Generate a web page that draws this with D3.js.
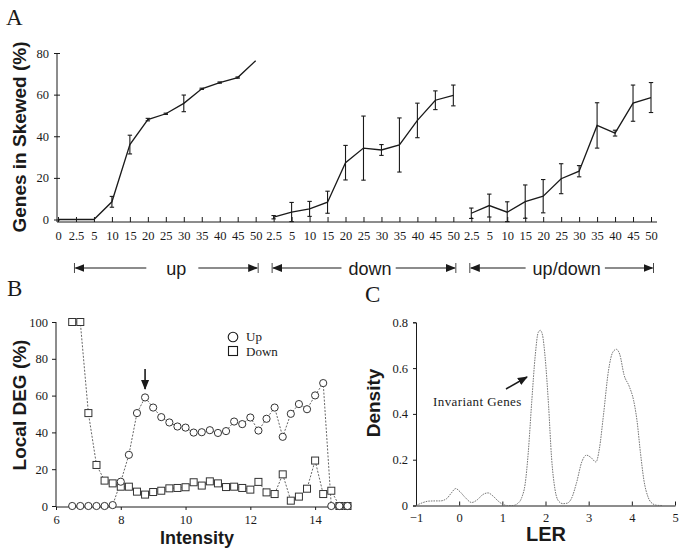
<!DOCTYPE html>
<html><head><meta charset="utf-8">
<script src="https://cdn.jsdelivr.net/npm/d3@7"></script>
<style>
body{margin:0;background:#fff;}
svg{display:block;}
.serif{font-family:"Liberation Serif","Times New Roman",serif;}
.sans{font-family:"Liberation Sans",Arial,sans-serif;}
</style>
</head><body>
<svg id="chart" width="685" height="548"></svg>
<script>
// ---------- Panel A data ----------
const groupsA = ["up", "down", "up/down"];
const levelsUp = ["0","2.5","5","10","15","20","25","30","35","40","45","50"];
const levelsDown = ["2.5","5","10","15","20","25","30","35","40","45","50"];
const levelsUpDown = ["2.5","5","10","15","20","25","30","35","40","45","50"];
const valUp = [0, 0, 0, 8.5, 36, 48, 50.8, 55.8, 62.8, 65.8, 68.2, 76.3];
const errUp = [0, 0, 0, 2.6, 4.5, 0.6, 0.3, 4, 0.3, 0.3, 0.3, 0];
const valDown = [1.1, 3.5, 5.1, 8.3, 27.3, 34.3, 33.4, 35.8, 47.6, 57.3, 59.6];
const errDown = [0.8, 4.7, 3.6, 5.3, 8.3, 15.4, 2.6, 13, 8.3, 4.5, 5];
const valUpDown = [3.0, 6.7, 3.5, 8.6, 11.2, 19.6, 23.2, 45.2, 41.5, 55.9, 58.6];
const errUpDown = [2.5, 5.5, 5, 8, 8, 7.2, 2.7, 10.9, 1.4, 8.7, 7.2];
const ticksA = [0, 20, 40, 60, 80];

// ---------- Panel B data ----------
const intensity = [6.5,6.75,7,7.25,7.5,7.75,8,8.25,8.5,8.75,9,9.25,9.5,9.75,10,10.25,10.5,10.75,11,11.25,11.5,11.75,12,12.25,12.5,12.75,13,13.25,13.5,13.75,14,14.25,14.5,14.75,15];
const localUp = [0,0,0,0,0,0.5,13.2,27.8,50.5,59,53.5,48.3,45.4,43.2,42.6,39.9,40.1,41.2,39.7,40.7,45.9,44.5,48.1,41,47.4,53.5,37.6,50.1,55.4,52.6,60.1,66.8,0,0,0];
const localDown = [100,100,50.5,22.3,13.8,12.3,10.5,10.5,7.8,6.2,7.6,8.3,9.6,9.8,10.2,12.9,11.1,13.4,12.3,10.3,10.5,9.8,8.9,13.1,7.4,6.5,17.2,2.9,5.1,9.4,24.7,6.5,8.3,0,0];
const ticksBx = [6, 8, 10, 12, 14];
const ticksBy = [0, 20, 40, 60, 80, 100];
const legendB = ["Up", "Down"];

// ---------- Panel C data ----------
const ler = [-1,-0.85,-0.71,-0.55,-0.44,-0.29,-0.18,-0.08,0.02,0.14,0.29,0.42,0.55,0.67,0.78,0.9,1.02,1.12,1.25,1.35,1.45,1.53,1.6,1.68,1.76,1.83,1.88,1.93,1.99,2.07,2.14,2.22,2.3,2.4,2.5,2.6,2.72,2.84,2.95,3.05,3.17,3.25,3.34,3.46,3.56,3.64,3.72,3.82,3.94,4.04,4.12,4.2,4.28,4.38,4.48,4.58,4.7];
const density = [0,0.012,0.019,0.02,0.02,0.03,0.055,0.074,0.06,0.035,0.013,0.025,0.048,0.055,0.042,0.02,0.004,0,0,0.008,0.035,0.096,0.23,0.45,0.65,0.755,0.765,0.745,0.65,0.44,0.21,0.07,0.02,0.008,0.01,0.03,0.1,0.19,0.22,0.21,0.19,0.25,0.39,0.59,0.67,0.682,0.66,0.57,0.52,0.46,0.37,0.23,0.11,0.035,0.008,0.001,0];
const ticksCx = [-1, 0, 1, 2, 3, 4, 5];
const ticksCy = [0, 0.2, 0.4, 0.6, 0.8];

const svg = d3.select("#chart");
const ink = "#1a1a1a";

// arrowhead marker
const defs = svg.append("defs");
defs.append("marker").attr("id","ah").attr("viewBox","0 0 10 10").attr("refX",9).attr("refY",5)
  .attr("markerWidth",10).attr("markerHeight",10).attr("markerUnits","userSpaceOnUse").attr("orient","auto")
  .append("path").attr("d","M0,1 L10,5 L0,9 Z").attr("fill",ink);

function styleAxis(g, size){
  g.selectAll("path.domain").attr("stroke", ink).attr("stroke-width", 1);
  g.selectAll(".tick line").attr("stroke", ink).attr("stroke-width", 1);
  g.selectAll("text").attr("class","serif").attr("font-size", size || 12).attr("fill", ink)
    .attr("font-family", '"Liberation Serif","Times New Roman",serif');
}

// ================= Panel A =================
const keysA = [];
const labelA = {};
const seriesA = [
  {name: groupsA[0], levels: levelsUp, vals: valUp, errs: errUp},
  {name: groupsA[1], levels: levelsDown, vals: valDown, errs: errDown},
  {name: groupsA[2], levels: levelsUpDown, vals: valUpDown, errs: errUpDown}
];
seriesA.forEach(s => s.levels.forEach(l => { const k = s.name + "|" + l; keysA.push(k); labelA[k] = l; }));

const xA = d3.scalePoint().domain(keysA).range([58, 651]);
const yA = d3.scaleLinear().domain([0, 80]).range([219.5, 53]);
const axisYA = 222;

// y axis
const gyA = svg.append("g").attr("transform", "translate(57,0)")
  .call(d3.axisLeft(yA).tickValues(ticksA).tickSizeOuter(0).tickSize(3).tickPadding(5));
styleAxis(gyA, 12.5);
gyA.select("path.domain").attr("d", `M0,${yA(80)}V${axisYA}`);
gyA.selectAll(".tick line").attr("x1", 3);

// x axis
const gxA = svg.append("g").attr("transform", `translate(0,${axisYA})`)
  .call(d3.axisBottom(xA).tickSizeInner(-5).tickSizeOuter(0).tickFormat(k => labelA[k]));
styleAxis(gxA, 12.5);
gxA.select("path.domain").attr("d", "M57,0H657");
gxA.selectAll("text").attr("y", 18).attr("dy", null);

// lines + error bars
const lineA = d3.line().x(d => xA(d.k)).y(d => yA(d.v));
seriesA.forEach(s => {
  const pts = s.levels.map((l, i) => ({k: s.name + "|" + l, v: s.vals[i], e: s.errs[i]}));
  svg.append("path").datum(pts).attr("d", lineA).attr("fill","none").attr("stroke", ink).attr("stroke-width", 1.3);
  const eb = svg.append("g").attr("stroke", ink).attr("stroke-width", 1.1);
  pts.filter(p => p.e > 0).forEach(p => {
    const x = xA(p.k), y1 = yA(p.v + p.e), y2 = yA(Math.max(p.v - p.e, -1));
    eb.append("line").attr("x1", x).attr("x2", x).attr("y1", y1).attr("y2", y2);
    eb.append("line").attr("x1", x-2.2).attr("x2", x+2.2).attr("y1", y1).attr("y2", y1);
    eb.append("line").attr("x1", x-2.2).attr("x2", x+2.2).attr("y1", y2).attr("y2", y2);
  });
});

// group arrows
const arrowY = 268;
const textShift = [10, 6, 5];
seriesA.forEach((s, gi) => {
  const first = s.name + "|" + (s.levels[0] === "0" ? s.levels[1] : s.levels[0]);
  const last = s.name + "|" + s.levels[s.levels.length - 1];
  const left = xA(first) - 1.5, right = xA(last) + 2.5;
  const cx = (left + right) / 2 + textShift[gi];
  const t = svg.append("text").attr("class","sans").attr("x", cx).attr("y", arrowY + 6.5)
    .attr("text-anchor","middle").attr("font-size", 18).attr("fill", ink)
    .attr("font-family", '"Liberation Sans",Arial,sans-serif').text(s.name);
  const w = t.node().getComputedTextLength();
  const gap = gi === 0 ? 20 : 7;
  const g = svg.append("g").attr("stroke", ink).attr("stroke-width", 1.2);
  g.append("line").attr("x1", left).attr("x2", left).attr("y1", arrowY - 5).attr("y2", arrowY + 5).attr("stroke-width", 0.8);
  g.append("line").attr("x1", right).attr("x2", right).attr("y1", arrowY - 5).attr("y2", arrowY + 5).attr("stroke-width", 0.8);
  g.append("line").attr("x1", cx - w/2 - gap).attr("x2", left + 1).attr("y1", arrowY).attr("y2", arrowY).attr("marker-end","url(#ah)");
  g.append("line").attr("x1", cx + w/2 + gap*0.6).attr("x2", right - 1).attr("y1", arrowY).attr("y2", arrowY).attr("marker-end","url(#ah)");
});

svg.append("text").attr("transform","translate(26,137) rotate(-90)").attr("text-anchor","middle")
  .attr("font-family",'"Liberation Sans",Arial,sans-serif').attr("font-weight","bold").attr("font-size",19)
  .attr("fill", ink).text("Genes in Skewed (%)");
svg.append("text").attr("x",6).attr("y",25).attr("font-family",'"Liberation Serif",serif').attr("font-size",23).attr("fill",ink).text("A");

// ================= Panel B =================
const xB = d3.scaleLinear().domain([6, 15]).range([56, 347.5]);
const yB = d3.scaleLinear().domain([0, 100]).range([506, 322]);

const gyB = svg.append("g").attr("transform","translate(56,0)")
  .call(d3.axisLeft(yB).tickValues(ticksBy).tickSizeOuter(0).tickSize(4).tickPadding(4));
styleAxis(gyB, 12.5);
gyB.select("path.domain").attr("d", `M0,${yB(100)}V${yB(0)+1}`);
const gxB = svg.append("g").attr("transform", `translate(0,${yB(0)+1})`)
  .call(d3.axisBottom(xB).tickValues(ticksBx).tickSizeOuter(0).tickSize(3).tickPadding(6).tickFormat(d3.format("d")));
styleAxis(gxB, 12.5);
gxB.select("path.domain").attr("d", `M56,0H348`);
gxB.selectAll("text").attr("y", 17).attr("dy", null);

const lineB = d3.line().x((d, i) => xB(intensity[i])).y(d => yB(d));
[localUp, localDown].forEach(arr => {
  svg.append("path").datum(arr).attr("d", lineB).attr("fill","none").attr("stroke","#555")
    .attr("stroke-width",0.9).attr("stroke-dasharray","2,1.5");
});
svg.append("g").selectAll("rect").data(localDown).join("rect")
  .attr("x",(d,i)=>xB(intensity[i])-3.5).attr("y",d=>yB(d)-3.5).attr("width",7).attr("height",7)
  .attr("fill","#fff").attr("stroke","#333").attr("stroke-width",1);
svg.append("g").selectAll("circle").data(localUp).join("circle")
  .attr("cx",(d,i)=>xB(intensity[i])).attr("cy",d=>yB(d)).attr("r",3.6)
  .attr("fill","#fff").attr("stroke","#333").attr("stroke-width",1);

// legend
svg.append("circle").attr("cx",233).attr("cy",337).attr("r",4.8).attr("fill","#fff").attr("stroke",ink).attr("stroke-width",1.1);
svg.append("rect").attr("x",228.5).attr("y",346.5).attr("width",9).attr("height",9).attr("fill","#fff").attr("stroke",ink).attr("stroke-width",1.1);
legendB.forEach((t,i)=>svg.append("text").attr("x",246).attr("y",341+i*14.5).attr("font-family",'"Liberation Serif",serif')
  .attr("font-size",13).attr("fill",ink).text(t));

// arrow at peak
svg.append("line").attr("x1",xB(8.75)).attr("x2",xB(8.75)).attr("y1",369).attr("y2",389)
  .attr("stroke",ink).attr("stroke-width",1.6).attr("marker-end","url(#ah)");

svg.append("text").attr("transform","translate(26,405) rotate(-90)").attr("text-anchor","middle")
  .attr("font-family",'"Liberation Sans",Arial,sans-serif').attr("font-weight","bold").attr("font-size",19)
  .attr("fill", ink).text("Local DEG (%)");
svg.append("text").attr("x",197).attr("y",544).attr("text-anchor","middle")
  .attr("font-family",'"Liberation Sans",Arial,sans-serif').attr("font-weight","bold").attr("font-size",18)
  .attr("fill", ink).text("Intensity");
svg.append("text").attr("x",7).attr("y",296).attr("font-family",'"Liberation Serif",serif').attr("font-size",23).attr("fill",ink).text("B");

// ================= Panel C =================
const xC = d3.scaleLinear().domain([-1, 5]).range([416, 675]);
const yC = d3.scaleLinear().domain([0, 0.8]).range([505.5, 322.3]);

const gyC = svg.append("g").attr("transform","translate(416,0)")
  .call(d3.axisLeft(yC).tickValues(ticksCy).tickSizeOuter(0).tickSize(3).tickPadding(5).tickFormat(d => d === 0 ? "0" : d3.format(".1f")(d)));
styleAxis(gyC, 12.5);
const gxC = svg.append("g").attr("transform", `translate(0,${yC(0)})`)
  .call(d3.axisBottom(xC).tickValues(ticksCx).tickSizeOuter(0).tickSizeInner(-4).tickFormat(d3.format("d")));
styleAxis(gxC, 12.5);
gxC.selectAll("text").attr("y", 16).attr("dy", null);

svg.append("path").datum(density)
  .attr("d", d3.line().x((d,i)=>xC(ler[i])).y(d=>yC(d)).curve(d3.curveMonotoneX))
  .attr("fill","none").attr("stroke","#666").attr("stroke-width",0.9).attr("stroke-dasharray","1.6,1");

svg.append("text").attr("x",433).attr("y",406).attr("font-family",'"Liberation Serif",serif')
  .attr("font-size",13).attr("letter-spacing",0.4).attr("fill",ink).text("Invariant Genes");
svg.append("line").attr("x1",506).attr("y1",389).attr("x2",527).attr("y2",377)
  .attr("stroke",ink).attr("stroke-width",1.5).attr("marker-end","url(#ah)");

svg.append("text").attr("transform","translate(380,403) rotate(-90)").attr("text-anchor","middle")
  .attr("font-family",'"Liberation Sans",Arial,sans-serif').attr("font-weight","bold").attr("font-size",19)
  .attr("fill", ink).text("Density");
svg.append("text").attr("x",546).attr("y",541).attr("text-anchor","middle")
  .attr("font-family",'"Liberation Sans",Arial,sans-serif').attr("font-weight","bold").attr("font-size",20)
  .attr("fill", ink).text("LER");
svg.append("text").attr("x",365).attr("y",302).attr("font-family",'"Liberation Serif",serif').attr("font-size",23).attr("fill",ink).text("C");
</script>
</body></html>
